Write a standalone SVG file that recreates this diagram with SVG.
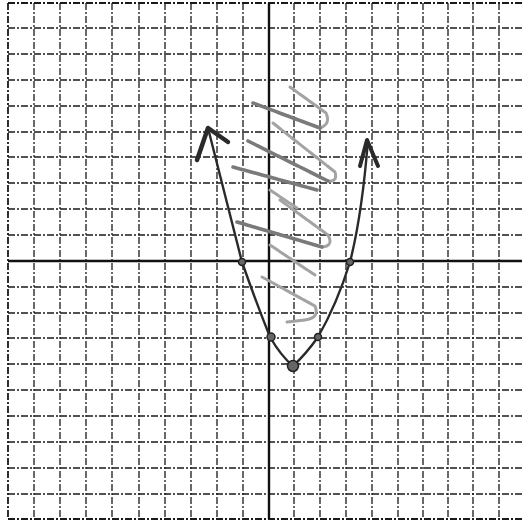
<svg xmlns="http://www.w3.org/2000/svg" width="522" height="523" viewBox="0 0 522 523">
<style>
.g{stroke:#1a1a1a;stroke-width:1.3;stroke-dasharray:7 2 2 2;fill:none}
.ax{stroke:#111;stroke-width:2.4;fill:none}
.pen{stroke:#2a2a2a;stroke-width:2.4;fill:none;stroke-linecap:round;stroke-linejoin:round}
.pc{stroke:#a3a3a3;stroke-width:3;fill:none;stroke-linecap:round;stroke-linejoin:round;stroke-dasharray:10 1.5}
.pcd{stroke:#7a7a7a;stroke-width:3.6;fill:none;stroke-linecap:round;stroke-linejoin:round;stroke-dasharray:10 1.5}
.pt{fill:#666;stroke:#222;stroke-width:1.5}
</style>
<rect width="522" height="523" fill="#fff"/>
<g id="grid">
<path class="g" d="M34,3V519M60,3V519M86,3V519M112,3V519M139,3V519M165,3V519M191,3V519M217,3V519M243,3V519M294,3V519M320,3V519M346,3V519M372,3V519M398,3V519M423,3V519M448,3V519M473,3V519M499,3V519"/>
<path class="g" d="M8,28H522M8,54H522M8,80H522M8,106H522M8,132H522M8,157H522M8,183H522M8,209H522M8,235H522M8,287H522M8,313H522M8,338H522M8,364H522M8,390H522M8,416H522M8,442H522M8,468H522M8,494H522"/>
<path class="g" d="M8,3H522M8,519H522M8,3V519" style="stroke-width:1.8"/>
</g>
<g id="axes">
<path class="ax" d="M8,261H522"/>
<path class="ax" d="M269,3V519"/>
</g>
<g id="scribble">
<path class="pc" d="M290,87L326,113Q331,124 320,128"/>
<path class="pcd" d="M320,128L253,103"/>
<path class="pc" d="M273,123L335,172Q338,182 328,181"/>
<path class="pcd" d="M328,181L248,141"/>
<path class="pcd" d="M233,167L317,190"/>
<path class="pc" d="M270,190L297,208"/>
<path class="pc" d="M280,200L328,235Q334,246 322,247"/>
<path class="pcd" d="M322,247L237,222"/>
<path class="pc" d="M270,245L315,275"/>
<path class="pc" d="M262,277L315,306Q320,318 305,320L287,322"/>
</g>
<g id="parabola">
<path class="pen" d="M208,128L242,262Q256,302 270,337Q281,356 293,366Q306,354 318,337Q337,304 350,262Q362,215 368,140"/>
<path class="pen" d="M197,160L208,128L228,142" style="stroke-width:4.5"/>
<path class="pen" d="M360,166L367,140L378,166" style="stroke-width:4"/>
<circle class="pt" cx="242" cy="262" r="3.5"/>
<circle class="pt" cx="350" cy="262" r="3.5"/>
<circle class="pt" cx="271" cy="337" r="4"/>
<circle class="pt" cx="318" cy="337" r="3.5"/>
<circle class="pt" cx="293" cy="366" r="5.5"/>
</g>
</svg>
